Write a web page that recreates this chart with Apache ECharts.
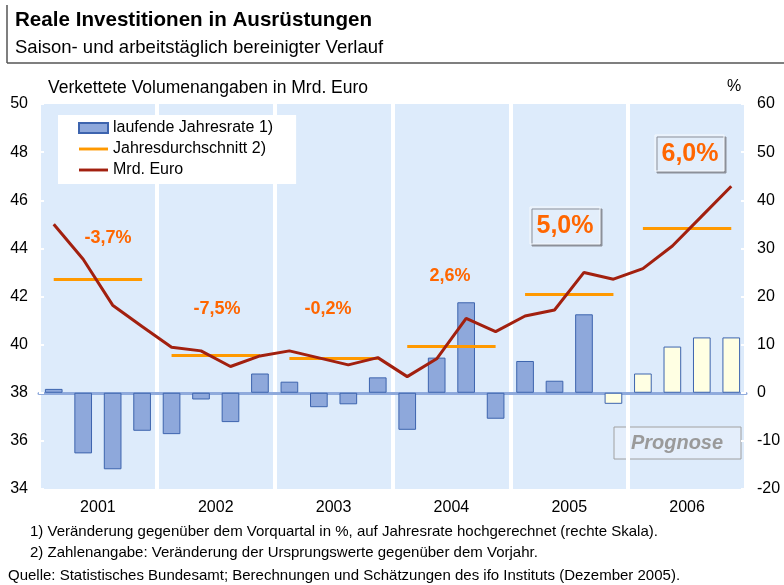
<!DOCTYPE html>
<html>
<head>
<meta charset="utf-8">
<script src="https://cdn.jsdelivr.net/npm/echarts@6/dist/echarts.min.js"></script>
<style>
  html, body { margin: 0; padding: 0; background: #fff; }
  #chart { width: 784px; height: 585px; }
</style>
</head>
<body>
<div id="chart"></div>
<script>
// Daten
var years = ['2001', '2002', '2003', '2004', '2005', '2006'];
var quarterNames = ['Q1', 'Q2', 'Q3', 'Q4'];
// laufende Jahresrate in % (rechte Skala)
var rateValues = [0.8, -12.6, -15.9, -7.9,  -8.6, -1.4, -6.1, 4.0,  2.3, -3.0, -2.4, 3.2,
                  -7.7, 7.3, 18.8, -5.4,  6.6, 2.5, 16.3, -2.3,  4.0, 9.6, 11.5, 11.5];
// Mrd. Euro (linke Skala)
var volumeValues = [45.0, 43.55, 41.64, 40.75,  39.89, 39.74, 39.09, 39.53,  39.74, 39.45, 39.16, 39.46,
                    38.67, 39.41, 41.09, 40.54,  41.19, 41.44, 43.0, 42.72,  43.16, 44.1, 45.34, 46.58];
// Jahresdurchschnitt (linke Skala)
var avgValues = [42.72, 39.55, 39.44, 39.92, 42.09, 44.83];
var avgLabels = ['-3,7%', '-7,5%', '-0,2%', '2,6%', '5,0%', '6,0%'];
var forecastStart = 19; // ab Q4 2005 Prognose
var leftTicks = {min: 34, max: 50, interval: 2};
var rightTicks = {min: -20, max: 60, interval: 10};

var quarters = [];
years.forEach(function (y) {
  quarterNames.forEach(function (q) { quarters.push(y + ' ' + q); });
});

var font = 'Liberation Sans, Arial, sans-serif';
var lineIcon = 'path://M0,0H30V3H0Z';

var barData = rateValues.map(function (v, i) {
  if (i >= forecastStart) {
    return {value: v, itemStyle: {color: '#FFFFE3', borderColor: '#3D64AE'}};
  }
  return v;
});

var avgSegments = avgValues.map(function (v, i) {
  return [{coord: [4 * i, v]}, {coord: [4 * i + 3, v]}];
});

var chart = echarts.init(document.getElementById('chart'));

var option = {
  animation: false,
  textStyle: {fontFamily: font},
  grid: {left: 39, right: 38, top: 104, bottom: 96, show: true, backgroundColor: '#DDEBFB', borderWidth: 0},
  legend: {
    orient: 'vertical',
    left: 58, top: 115,
    backgroundColor: '#fff',
    padding: [5, 23, 6, 20],
    itemGap: 5,
    itemWidth: 29, itemHeight: 10,
    symbolKeepAspect: true,
    textStyle: {fontSize: 16, color: '#000', fontFamily: font},
    data: [
      {name: 'laufende Jahresrate 1)', icon: 'rect'},
      {name: 'Jahresdurchschnitt 2)', icon: lineIcon},
      {name: 'Mrd. Euro', icon: lineIcon}
    ]
  },
  xAxis: [{
    type: 'category',
    data: quarters,
    axisLine: {onZero: true, onZeroAxisIndex: 1, lineStyle: {color: '#8FAADC', width: 3}},
    axisTick: {interval: 3, length: 6, lineStyle: {color: '#8FAADC', width: 3}},
    axisLabel: {show: false},
    splitLine: {show: true, interval: 3, lineStyle: {color: '#fff', width: 4}}
  }, {
    type: 'category',
    data: years,
    position: 'bottom',
    axisLine: {show: false},
    axisTick: {show: false},
    axisLabel: {fontSize: 16, color: '#000', margin: 11, fontFamily: font}
  }],
  yAxis: [{
    type: 'value',
    min: leftTicks.min, max: leftTicks.max, interval: leftTicks.interval,
    axisLine: {show: false},
    axisTick: {show: true, inside: true, length: 5, lineStyle: {color: '#fff', width: 2}},
    axisLabel: {fontSize: 16, color: '#000', margin: 11, fontFamily: font},
    splitLine: {show: false}
  }, {
    type: 'value',
    min: rightTicks.min, max: rightTicks.max, interval: rightTicks.interval,
    axisLine: {show: false},
    axisTick: {show: true, inside: true, length: 5, lineStyle: {color: '#fff', width: 2}},
    axisLabel: {fontSize: 16, color: '#000', margin: 11, fontFamily: font},
    splitLine: {show: false}
  }],
  series: [{
    name: 'laufende Jahresrate 1)',
    type: 'bar',
    xAxisIndex: 0, yAxisIndex: 1,
    barWidth: '60%',
    itemStyle: {color: '#8EA8DB', borderColor: '#3D64AE', borderWidth: 1},
    data: barData
  }, {
    name: 'Jahresdurchschnitt 2)',
    type: 'line',
    xAxisIndex: 0, yAxisIndex: 0,
    symbol: 'none',
    itemStyle: {color: '#FF9900'},
    lineStyle: {color: '#FF9900', width: 3},
    data: [],
    markLine: {
      silent: true,
      symbol: 'none',
      label: {show: false},
      lineStyle: {color: '#FF9900', width: 3, type: 'solid'},
      data: avgSegments
    }
  }, {
    name: 'Mrd. Euro',
    type: 'line',
    xAxisIndex: 0, yAxisIndex: 0,
    symbol: 'none',
    itemStyle: {color: '#A2200F'},
    lineStyle: {color: '#A2200F', width: 3},
    data: volumeValues,
    z: 5
  }],
  graphic: [
    // Kopf
    {type: 'line', shape: {x1: 7, y1: 5, x2: 7, y2: 63}, style: {stroke: '#555', lineWidth: 1.5}},
    {type: 'line', shape: {x1: 7, y1: 63, x2: 784, y2: 63}, style: {stroke: '#555', lineWidth: 1.5}},
    {type: 'text', left: 15, top: 10, style: {text: 'Reale Investitionen in Ausrüstungen', font: 'bold 20.6px ' + font, fill: '#000'}},
    {type: 'text', left: 15, top: 38, style: {text: 'Saison- und arbeitstäglich bereinigter Verlauf', font: '18.5px ' + font, fill: '#000'}},
    {type: 'text', left: 48, top: 79, style: {text: 'Verkettete Volumenangaben in Mrd. Euro', font: '17.5px ' + font, fill: '#000'}},
    {type: 'text', left: 727, top: 79, style: {text: '%', font: '16px ' + font, fill: '#000'}},
    // Jahresangaben
    {type: 'text', x: 108, y: 238, style: {text: avgLabels[0], font: 'bold 18px ' + font, fill: '#FF6600', align: 'center', verticalAlign: 'middle'}},
    {type: 'text', x: 217, y: 309, style: {text: avgLabels[1], font: 'bold 18px ' + font, fill: '#FF6600', align: 'center', verticalAlign: 'middle'}},
    {type: 'text', x: 328, y: 309, style: {text: avgLabels[2], font: 'bold 18px ' + font, fill: '#FF6600', align: 'center', verticalAlign: 'middle'}},
    {type: 'text', x: 450, y: 276, style: {text: avgLabels[3], font: 'bold 18px ' + font, fill: '#FF6600', align: 'center', verticalAlign: 'middle'}},
    {type: 'rect', shape: {x: 530, y: 207, width: 70, height: 37}, style: {fill: '#E3EEFB', stroke: '#F4F8FD', lineWidth: 1, shadowColor: '#8C9099', shadowOffsetX: 2, shadowOffsetY: 2}},
    {type: 'text', x: 565, y: 226, style: {text: avgLabels[4], font: 'bold 25px ' + font, fill: '#FF6600', align: 'center', verticalAlign: 'middle'}},
    {type: 'rect', shape: {x: 655, y: 135, width: 69, height: 36}, style: {fill: '#E3EEFB', stroke: '#F4F8FD', lineWidth: 1, shadowColor: '#8C9099', shadowOffsetX: 2, shadowOffsetY: 2}},
    {type: 'text', x: 690, y: 154, style: {text: avgLabels[5], font: 'bold 25px ' + font, fill: '#FF6600', align: 'center', verticalAlign: 'middle'}},
    // Prognose
    {type: 'rect', shape: {x: 614, y: 427, width: 127, height: 32}, style: {fill: '#E4EEFB', stroke: '#A0A0A0', lineWidth: 1}},
    {type: 'text', x: 677, y: 443, style: {text: 'Prognose', font: 'italic bold 20px ' + font, fill: '#9A9A9A', align: 'center', verticalAlign: 'middle'}},
    // Fußnoten
    {type: 'text', left: 30, top: 524, style: {text: '1) Veränderung gegenüber dem Vorquartal in %, auf Jahresrate hochgerechnet (rechte Skala).', font: '15px ' + font, fill: '#000'}},
    {type: 'text', left: 30, top: 545, style: {text: '2) Zahlenangabe: Veränderung der Ursprungswerte gegenüber dem Vorjahr.', font: '15px ' + font, fill: '#000'}},
    {type: 'text', left: 8, top: 568, style: {text: 'Quelle: Statistisches Bundesamt; Berechnungen und Schätzungen des ifo Instituts (Dezember 2005).', font: '15px ' + font, fill: '#000'}}
  ]
};

chart.setOption(option);
</script>
</body>
</html>
